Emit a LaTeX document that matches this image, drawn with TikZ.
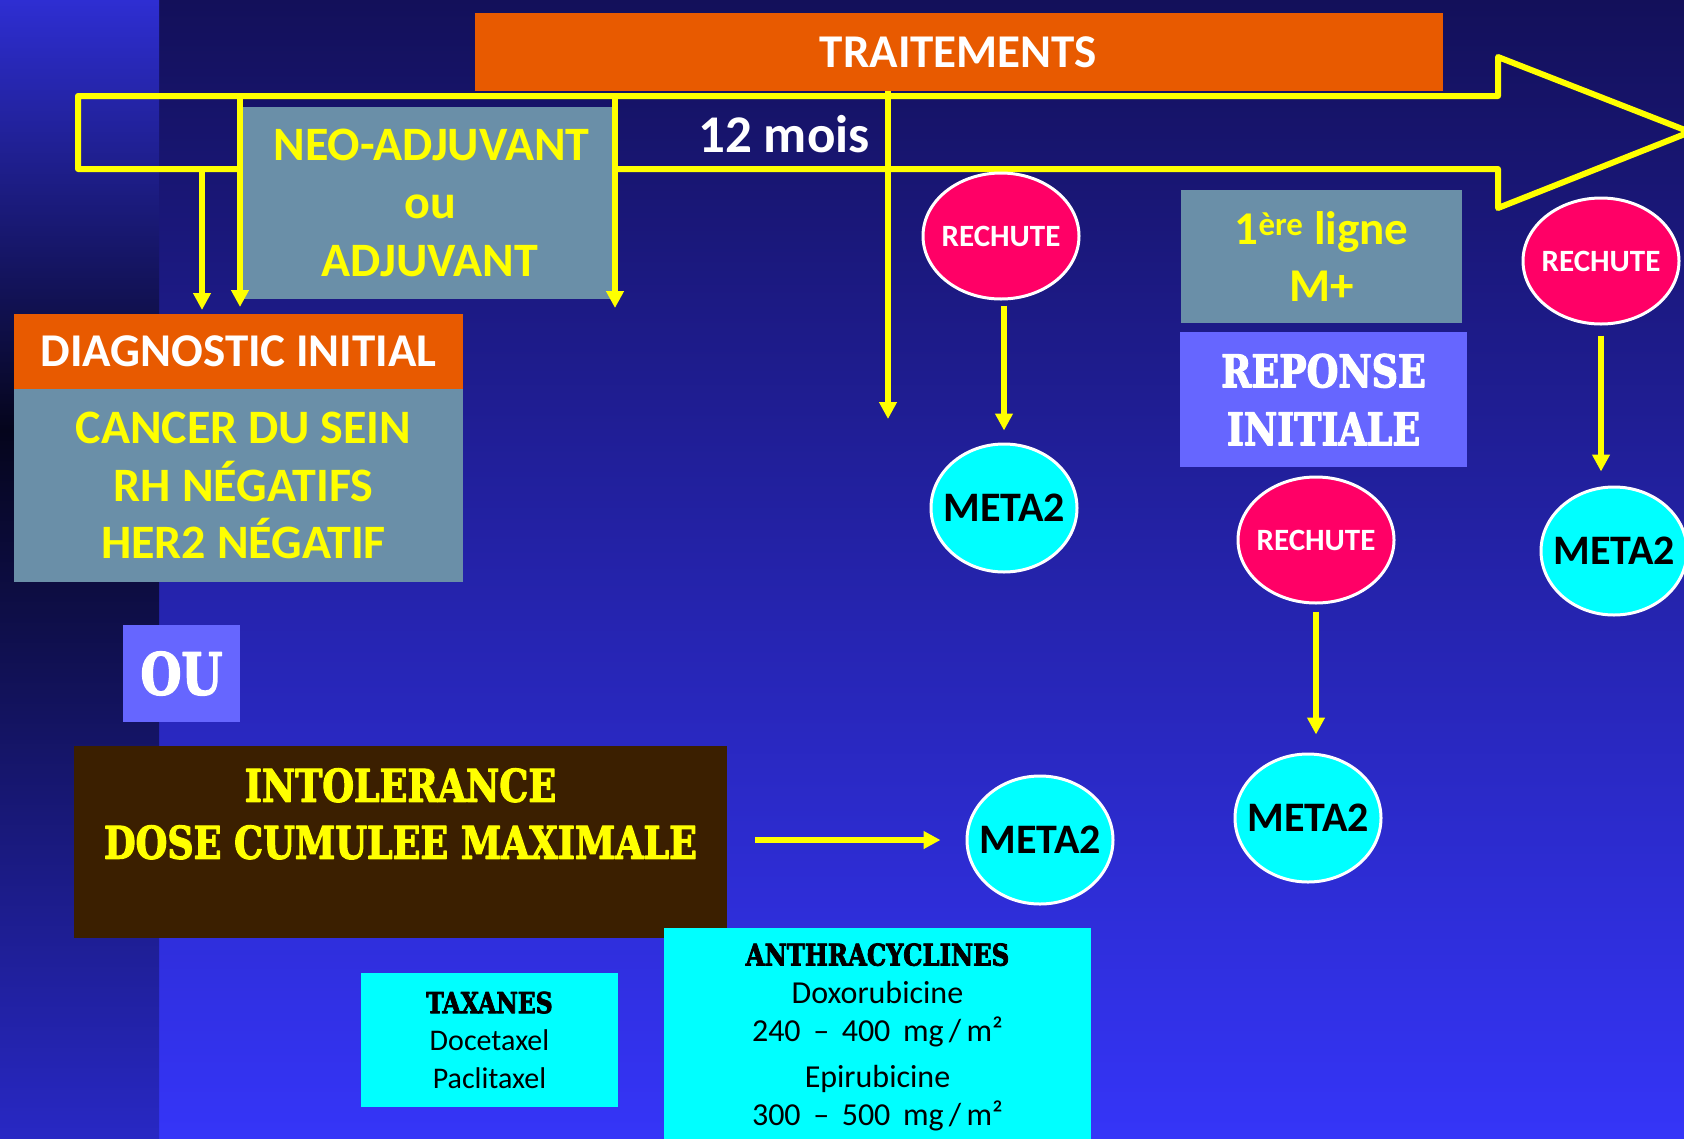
\documentclass[tikz,border=0pt]{standalone}
\usepackage{fontspec}
\setmainfont{Carlito}
\newfontfamily\stencil[FakeStretch=0.81, BoldFeatures={FakeBold=2.5}]{DejaVu Serif}
\usetikzlibrary{arrows.meta,shapes.geometric}

\definecolor{orangebox}{HTML}{E85A00}
\definecolor{ardoise}{HTML}{6A8FA8}
\definecolor{lavande}{HTML}{6666FF}
\definecolor{brun}{HTML}{3B1F00}
\definecolor{rose}{HTML}{FF0066}
\definecolor{jaune}{HTML}{FFFF00}
\definecolor{turquoise}{HTML}{00FFFF}
\definecolor{fondhaut}{HTML}{13105A}
\definecolor{fondmilieu}{HTML}{2A2AD0}
\definecolor{fondbas}{HTML}{3535F8}
\definecolor{bandehaut}{HTML}{2E2ED2}
\definecolor{bandenoir}{HTML}{05051C}
\definecolor{bandebas}{HTML}{2828C4}

\begin{document}
\begin{tikzpicture}[x=1pt, y=-1pt, line join=round,
    flow/.style={draw=jaune, line width=6pt, -{Triangle[length=17pt,width=17pt]}},
    boite/.style={rectangle, inner sep=0pt, align=center},
    rechutenode/.style={ellipse, draw=white, line width=3pt, fill=rose, text=white,
        inner sep=0pt, minimum width=156pt, minimum height=126pt,
        font=\bfseries\fontsize{31}{36}\selectfont},
    metanode/.style={ellipse, draw=white, line width=3pt, fill=turquoise, text=black,
        inner sep=0pt, minimum width=146pt, minimum height=128pt,
        font=\bfseries\fontsize{42}{48}\selectfont}]

  %--- cadre (1 unite = 1 pixel) ---
  \useasboundingbox (0,0) rectangle (1684,1138);
  \clip (0,0) rectangle (1684,1138);

  %--- fond ---
  \shade[top color=fondhaut, middle color=fondmilieu, bottom color=fondbas]
      (0,0) rectangle (1684,1138);
  \shade[top color=bandehaut, bottom color=bandenoir] (0,0) rectangle (159,430);
  \shade[top color=bandenoir, bottom color=bandebas] (0,430) rectangle (159,1138);

  %--- grande fleche du temps ---
  \draw[jaune, line width=6pt] (78,96) -- (1498,96) -- (1498,57) -- (1690,132)
      -- (1498,208) -- (1498,169) -- (78,169) -- cycle;
  \node[white, font=\bfseries\fontsize{53}{60}\selectfont] (mois) at (784,134) {12 mois};

  %--- traitements ---
  \node[boite, fill=orangebox, minimum width=968pt, minimum height=78pt, text=white,
        font=\bfseries\fontsize{47}{56}\selectfont] (traitements) at (958.5,52) {TRAITEMENTS};

  \node[boite, fill=ardoise, minimum width=369pt, minimum height=192pt, text=jaune,
        font=\bfseries\fontsize{48}{58}\selectfont] (neo) at (427.5,203)
      {\hspace*{8pt}NEO-ADJUVANT\\\hspace*{5pt}ou\\\hspace*{5pt}ADJUVANT};

  %--- diagnostic ---
  \node[boite, fill=orangebox, minimum width=449pt, minimum height=75pt, text=white,
        font=\bfseries\fontsize{47}{54}\selectfont] (diag) at (238.5,351.5) {DIAGNOSTIC INITIAL};
  \node[boite, fill=ardoise, minimum width=449pt, minimum height=193pt, text=jaune,
        font=\bfseries\fontsize{48}{57.5}\selectfont] (cancer) at (238.5,485.5)
      {\hspace*{10pt}CANCER DU SEIN\\\hspace*{10pt}RH NÉGATIFS\\\hspace*{10pt}HER2 NÉGATIF};

  \node[boite, fill=lavande, minimum width=117pt, minimum height=97pt, text=white,
        font=\stencil\bfseries\fontsize{58}{60}\selectfont] (ou) at (181.5,673.5) {OU};

  %--- intolerance ---
  \node[boite, fill=brun, minimum width=653pt, minimum height=192pt, text=jaune,
        font=\stencil\bfseries\fontsize{45}{57}\selectfont] (intol) at (400.5,842)
      {INTOLERANCE\\DOSE CUMULEE MAXIMALE\\\mbox{}};

  \node[boite, fill=turquoise, minimum width=257pt, minimum height=134pt, text=black,
        font=\fontsize{30}{37.5}\selectfont] (taxanes) at (489.5,1040)
      {{\stencil\bfseries\fontsize{29}{30}\selectfont TAXANES}\\Docetaxel\\Paclitaxel};

  \node[boite, fill=turquoise, minimum width=427pt, minimum height=218pt, text=black,
        anchor=north, font=\fontsize{32}{38}\selectfont] (anthra) at (877.5,928)
      {{\stencil\bfseries\fontsize{30}{30}\selectfont ANTHRACYCLINES}\\Doxorubicine\\
       240 \,–\, 400 \,mg\,/\,m²\\[8pt]Epirubicine\\300 \,–\, 500 \,mg\,/\,m²};

  %--- premiere ligne ---
  \node[boite, fill=ardoise, minimum width=281pt, minimum height=133pt, text=jaune,
        font=\bfseries\fontsize{47}{57}\selectfont] (ligne) at (1321.5,256.5)
      {1\textsuperscript{ère} ligne\\M+};
  \node[boite, fill=lavande, minimum width=287pt, minimum height=135pt, text=white,
        font=\stencil\bfseries\fontsize{45}{58}\selectfont] (reponse) at (1323.5,399.5)
      {REPONSE\\INITIALE};

  %--- rechutes et meta ---
  \node[rechutenode] (rechuteA) at (1001,236) {\makebox[0pt]{RECHUTE}};
  \node[metanode]    (metaA)    at (1004,508) {\makebox[0pt]{META2}};
  \node[rechutenode] (rechuteB) at (1316,540) {\makebox[0pt]{RECHUTE}};
  \node[metanode]    (metaB)    at (1308,818) {\makebox[0pt]{META2}};
  \node[rechutenode] (rechuteC) at (1601,261) {\makebox[0pt]{RECHUTE}};
  \node[metanode]    (metaC)    at (1614,551) {\makebox[0pt]{META2}};
  \node[metanode]    (metaD)    at (1040,840) {\makebox[0pt]{META2}};

  %--- fleches depuis la fleche du temps ---
  \coordinate (haut1) at (202,169);  \coordinate (bas1) at (202,310);
  \coordinate (haut2) at (240,93);   \coordinate (bas2) at (240,307);
  \coordinate (haut3) at (615,96);   \coordinate (bas3) at (615,308);
  \coordinate (haut4) at (888,91);   \coordinate (bas4) at (888,419);
  \draw[flow] (haut1) -- (bas1);
  \draw[flow] (haut2) -- (bas2);
  \draw[flow] (haut3) -- (bas3);
  \draw[flow] (haut4) -- (bas4);

  %--- rechute -> meta ---
  \draw[flow, shorten <=5pt, shorten >=12pt] (metaA.north |- rechuteA.south) -- (metaA.north);
  \draw[flow, shorten <=7pt, shorten >=18pt] (rechuteB.south) -- (rechuteB.south |- metaB.north);
  \draw[flow, shorten <=10pt, shorten >=14pt] (rechuteC.south) -- (rechuteC.south |- metaC.north);
  \draw[flow, shorten <=28pt, shorten >=25pt] (intol.east |- metaD.west) -- (metaD.west);

\end{tikzpicture}
\end{document}
